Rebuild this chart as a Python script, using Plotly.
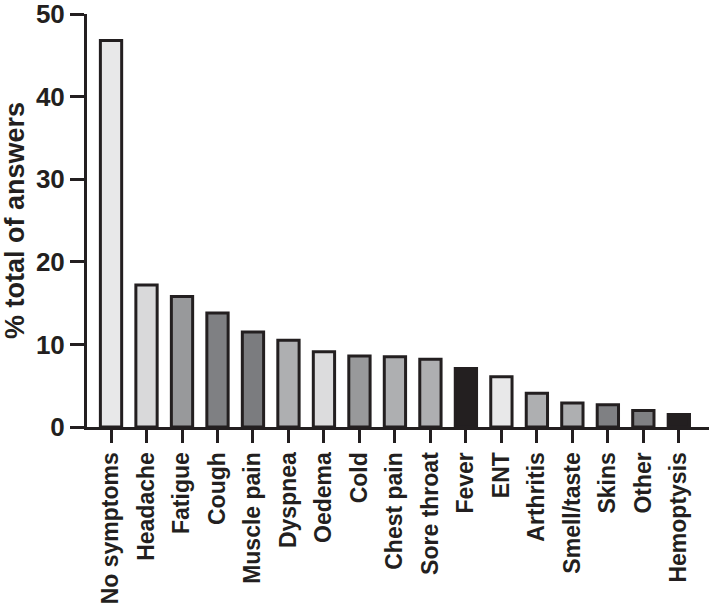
import plotly.graph_objects as go

symptoms = ['No symptoms', 'Headache', 'Fatigue', 'Cough', 'Muscle pain', 'Dyspnea',
            'Oedema', 'Cold', 'Chest pain', 'Sore throat', 'Fever', 'ENT', 'Arthritis',
            'Smell/taste', 'Skins', 'Other', 'Hemoptysis']
percent = [46.8, 17.2, 15.8, 13.8, 11.5, 10.5, 9.1, 8.6, 8.5, 8.2, 7.1, 6.1, 4.1,
           2.9, 2.7, 2.0, 1.5]
fills = ['#e8e8e9', '#d9d9da', '#98999b', '#7f8083', '#7b7c7f', '#aeafb1', '#dcdcdd',
         '#98999b', '#aeafb1', '#aeafb1', '#231f20', '#e8e8e9', '#aeafb1', '#aeafb1',
         '#7f8083', '#7f8083', '#231f20']

INK = '#231f20'
FONT = 'Liberation Sans, Arial, sans-serif'

fig = go.Figure(go.Bar(
    x=list(range(len(symptoms))),
    y=percent,
    marker=dict(color=fills, line=dict(color=INK, width=3)),
    width=0.6,
    showlegend=False,
))

fig.update_layout(
    width=712, height=604,
    margin=dict(l=87, r=3, t=14, b=177, autoexpand=False),
    paper_bgcolor='white',
    plot_bgcolor='white',
    font=dict(family=FONT, color=INK, size=24),
)
fig.update_xaxes(
    range=[-0.677, 16.85],
    tickmode='array', tickvals=list(range(len(symptoms))), ticktext=symptoms,
    tickangle=-90, automargin=False, ticklabeloverflow='allow',
    showline=True, linecolor=INK, linewidth=3,
    ticks='outside', ticklen=13, tickwidth=3, tickcolor=INK,
    showgrid=False, zeroline=False,
    tickfont=dict(size=23, family=FONT, color=INK, weight='bold'),
)
fig.update_yaxes(
    range=[0, 50.02],
    tickvals=[0, 10, 20, 30, 40, 50],
    automargin=False, ticklabeloverflow='allow',
    showline=True, linecolor=INK, linewidth=3,
    ticks='outside', ticklen=14, tickwidth=3, tickcolor=INK,
    showgrid=False, zeroline=False,
    tickfont=dict(size=26, family=FONT, color=INK, weight='bold'),
    title=dict(text='% total of answers', standoff=8,
               font=dict(size=27, family=FONT, color=INK, weight='bold')),
)

# page body has an 8px default margin; drop it so the figure sits at the corner
fig.write_html('out.html', config={'displayModeBar': False},
               post_script="document.body.style.margin='0';")
